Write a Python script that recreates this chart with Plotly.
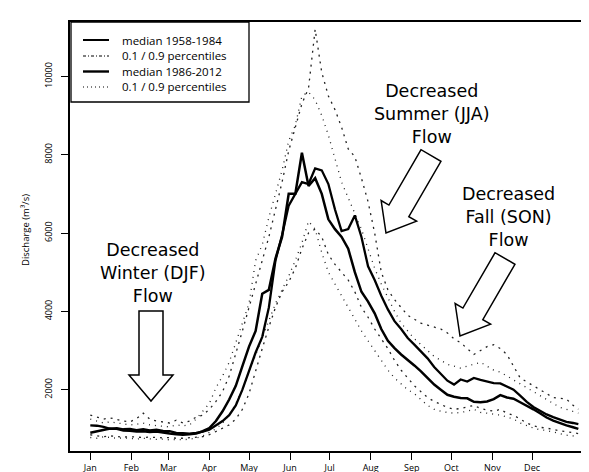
import math
import plotly.graph_objects as go

# ---------------- data ----------------
days = [1, 6, 11, 16, 21, 26, 31, 36, 41, 46, 51, 56, 61, 66, 71, 76, 81, 86, 91, 96,
        101, 106, 111, 116, 121, 126, 131, 136, 141, 146, 151, 156, 161, 166, 171, 176,
        181, 186, 191, 196, 201, 206, 211, 216, 221, 226, 231, 236, 241, 246, 251, 256,
        261, 266, 271, 276, 281, 286, 291, 296, 301, 306, 311, 316, 321, 326, 331, 336,
        341, 346, 351, 356, 361, 366, 370]

median_old = [1090, 1080, 1050, 1000, 1020, 990, 1000, 970, 990, 960, 980, 950, 940, 900, 890, 880, 900, 930, 980, 1100,
              1200, 1350, 1600, 2000, 2500, 2950, 3350, 4100, 5300, 5950, 6700, 7000, 7300, 7250, 7650, 7600,
              7250, 6600, 6050, 6100, 6450, 5900, 5150, 4800, 4400, 4050, 3750, 3550, 3320, 3150, 2980, 2800,
              2580, 2400, 2230, 2130, 2260, 2210, 2300, 2250, 2210, 2170, 2160, 2080, 2000, 1850, 1690, 1560,
              1460, 1370, 1300, 1230, 1180, 1150, 1120]

median_new = [900, 940, 980, 1010, 1000, 960, 950, 930, 940, 920, 930, 900, 880, 860, 850, 860, 880, 940, 1020, 1200,
              1450, 1750, 2100, 2600, 3100, 3500, 4450, 4550, 5350, 5900, 7000, 7000, 8050, 7200, 7400, 7000,
              6350, 6100, 5900, 5600, 5000, 4500, 4250, 3950, 3550, 3250, 3060, 2900, 2770, 2620, 2470, 2300,
              2130, 2000, 1870, 1820, 1790, 1780, 1690, 1680, 1700, 1760, 1860, 1800, 1770, 1680, 1600, 1500,
              1400, 1290, 1210, 1140, 1090, 1040, 1000]

p90_old = [1350, 1300, 1250, 1280, 1240, 1200, 1180, 1260, 1400, 1250, 1200, 1180, 1150, 1220, 1150, 1200, 1300, 1350, 1500, 1700,
           1950, 2350, 2900, 3500, 4100, 4700, 5300, 5900, 6600, 7300, 8100, 8700, 9300, 9700, 11200, 10100,
           9500, 9150, 8700, 8150, 7950, 7400, 6800, 6000, 5000, 4550, 4300, 4100, 3900, 3800, 3700, 3650,
           3600, 3550, 3450, 3300, 3200, 3050, 2900, 3000, 3100, 3150, 3050, 2900, 2600, 2300, 2200, 2100,
           1980, 1900, 1800, 1780, 1760, 1600, 1500]

p10_old = [850, 820, 800, 820, 800, 790, 800, 790, 780, 790, 780, 770, 780, 760, 760, 770, 780, 800, 850, 930,
           1000, 1100, 1250, 1500, 1900, 2500, 3050, 3600, 4100, 4500, 4750, 5100, 5600, 6000, 6100, 5900,
           5450, 5200, 5000, 4800, 4500, 4100, 3850, 3550, 3300, 3050, 2750, 2500, 2300, 2100, 1950, 1800,
           1700, 1620, 1550, 1500, 1520, 1560, 1600, 1520, 1480, 1450, 1500, 1400, 1350, 1250, 1150, 1080,
           1040, 1020, 980, 950, 930, 900, 880]

p90_new = [1250, 1200, 1150, 1180, 1150, 1120, 1100, 1120, 1150, 1100, 1080, 1060, 1050, 1100, 1080, 1100, 1250, 1450, 1650, 2050,
           2350, 2700, 3200, 3750, 4200, 5300, 5700, 6400, 7000, 7600, 8350, 8750, 9500, 9600, 9400, 9000,
           8500, 7900, 7300, 6900, 6500, 6100, 5600, 5100, 4700, 4350, 4000, 3700, 3500, 3300, 3150, 3000,
           2850, 2750, 2650, 2600, 2550, 2600, 2650, 2700, 2600, 2500, 2450, 2350, 2250, 2150, 2050, 1950,
           1850, 1750, 1650, 1550, 1500, 1450, 1400]

p10_new = [780, 760, 800, 780, 760, 770, 750, 740, 760, 740, 730, 740, 720, 730, 720, 740, 760, 820, 900, 1000,
           1150, 1350, 1650, 2000, 2450, 2900, 3300, 3800, 4200, 4550, 4900, 5300, 5750, 6300, 6100, 5500,
           5000, 4700, 4400, 4100, 3800, 3500, 3250, 3000, 2750, 2500, 2300, 2150, 2000, 1900, 1750, 1600,
           1500, 1450, 1420, 1400, 1420, 1450, 1500, 1420, 1400, 1380, 1350, 1300, 1250, 1150, 1080, 1020,
           980, 960, 920, 880, 840, 820, 800]

month_days = [1, 32, 60, 91, 121, 152, 182, 213, 244, 274, 305, 335]
month_labels = ["Jan", "Feb", "Mar", "Apr", "May", "Jun", "Jul", "Aug", "Sep", "Oct", "Nov", "Dec"]
y_ticks = [2000, 4000, 6000, 8000, 10000]
y_labels = ["2000", "4000", "6000", "8000", "10000"]

legend_labels = ["median 1958-1984", "0.1 / 0.9 percentiles", "median 1986-2012", "0.1 / 0.9 percentiles"]

# ---------------- figure ----------------
W, H = 589, 472
ML, MR, MT, MB = 62, 0, 14, 29
FONT = "Open Sans"
TFONT = "DejaVu Sans"

OLD_P_DASH = "3px,2px,1px,2px"
NEW_P_DASH = "1px,3px"

fig = go.Figure()

def add(y, name, dash, width, color="black"):
    fig.add_trace(go.Scatter(
        x=days, y=y, mode="lines", name=name, showlegend=False,
        line=dict(color=color, width=width, dash=dash), hoverinfo="skip"))

add(p90_old, legend_labels[1], "2px,5px", 1.3, "#222")
add(p10_old, legend_labels[1], "2px,5px", 1.3, "#222")
add(p90_new, legend_labels[3], "1px,5px", 1.3, "#222")
add(p10_new, legend_labels[3], "1px,5px", 1.3, "#222")
add(median_old, legend_labels[0], "solid", 2.3)
add(median_new, legend_labels[2], "solid", 2.5)

# pixel -> paper helpers (for decoration placement only)
PW, PH = W - ML - MR, H - MT - MB
def px(x):
    return (x - ML) / PW
def py(y):
    return (H - MB - y) / PH

def poly_path(pts):
    return "M " + " L ".join(f"{px(a):.5f},{py(b):.5f}" for a, b in pts) + " Z"

def slanted_arrow(cx, cy, tx, ty, w, hw, ls):
    dx, dy = tx - cx, ty - cy
    L = math.hypot(dx, dy)
    ux, uy = dx / L, dy / L
    nx, ny = -uy, ux
    P = lambda s, t: (cx + s * ux + t * nx, cy + s * uy + t * ny)
    return [P(0, w), P(ls, w), P(ls, hw), P(L, 0), P(ls, -hw), P(ls, -w), P(0, -w)]

shapes = []
winter = [(131, 303), (155, 303), (155, 367), (165, 367), (143, 393), (121, 367), (131, 367)]
summer = slanted_arrow(423, 147.5, 378, 225, 11.5, 20.5, 64)
fall = slanted_arrow(497, 250.5, 452, 328, 11.5, 20.5, 64)
for pts in (winter, summer, fall):
    shapes.append(dict(type="path", xref="paper", yref="paper", path=poly_path(pts),
                       line=dict(color="black", width=1.5), fillcolor="white", layer="above"))

annotations = []

# legend box (drawn by hand to match the reference's compact rows)
shapes.append(dict(type="rect", xref="paper", yref="paper", x0=px(63), x1=px(241), y0=py(94), y1=py(14),
                   line=dict(color="black", width=1.3), fillcolor="white", layer="above"))
row_y = [32, 48, 63.5, 79]
row_style = [("solid", 2.0), (OLD_P_DASH, 1.2), ("solid", 2.4), (NEW_P_DASH, 1.2)]
for yy, (dash, wd), lab in zip(row_y, row_style, legend_labels):
    shapes.append(dict(type="line", xref="paper", yref="paper", x0=px(75), x1=px(101), y0=py(yy), y1=py(yy),
                       line=dict(color="black", width=wd, dash=dash), layer="above"))
    annotations.append(dict(x=px(113), y=py(yy), xref="paper", yref="paper", text=lab, showarrow=False,
                            xanchor="left", yanchor="middle", borderpad=0,
                            font=dict(family=FONT, size=11.5, color="black")))

def block(x, y, s, size=17.5):
    annotations.append(dict(x=px(x), y=py(y), xref="paper", yref="paper", text=s, showarrow=False,
                            xanchor="center", yanchor="middle", align="center",
                            font=dict(family=TFONT, size=size, color="black")))

block(145, 265, "Decreased<br>Winter (DJF)<br>Flow")
block(423, 106, "Decreased<br>Summer (JJA)<br>Flow")
block(500, 209, "Decreased<br>Fall (SON)<br>Flow")

annotations.append(dict(x=px(17), y=py(222), xref="paper", yref="paper", text="Discharge (m³/s)",
                        showarrow=False, textangle=-90, xanchor="center", yanchor="middle",
                        font=dict(family=FONT, size=9.5, color="black")))

fig.update_layout(
    width=W, height=H,
    margin=dict(l=ML, r=MR, t=MT, b=MB, pad=0),
    paper_bgcolor="white", plot_bgcolor="white",
    font=dict(family=FONT, color="black"),
    shapes=shapes, annotations=annotations,
    showlegend=False,
    xaxis=dict(range=[-14.35, 384.1], showgrid=False, zeroline=False,
               showline=True, linecolor="black", linewidth=1.5, mirror=True,
               ticks="outside", ticklen=7, tickwidth=1.2, tickcolor="black",
               tickvals=month_days, ticktext=month_labels,
               tickfont=dict(family=FONT, size=9, color="black")),
    yaxis=dict(range=[435, 11388], showgrid=False, zeroline=False,
               showline=True, linecolor="black", linewidth=1.5,
               ticks="outside", ticklen=7, tickwidth=1.2, tickcolor="black",
               tickvals=y_ticks, ticktext=y_labels, tickangle=-90,
               tickfont=dict(family=FONT, size=9, color="black"), ticklabelstandoff=6),
)

fig.write_html("out.html")
